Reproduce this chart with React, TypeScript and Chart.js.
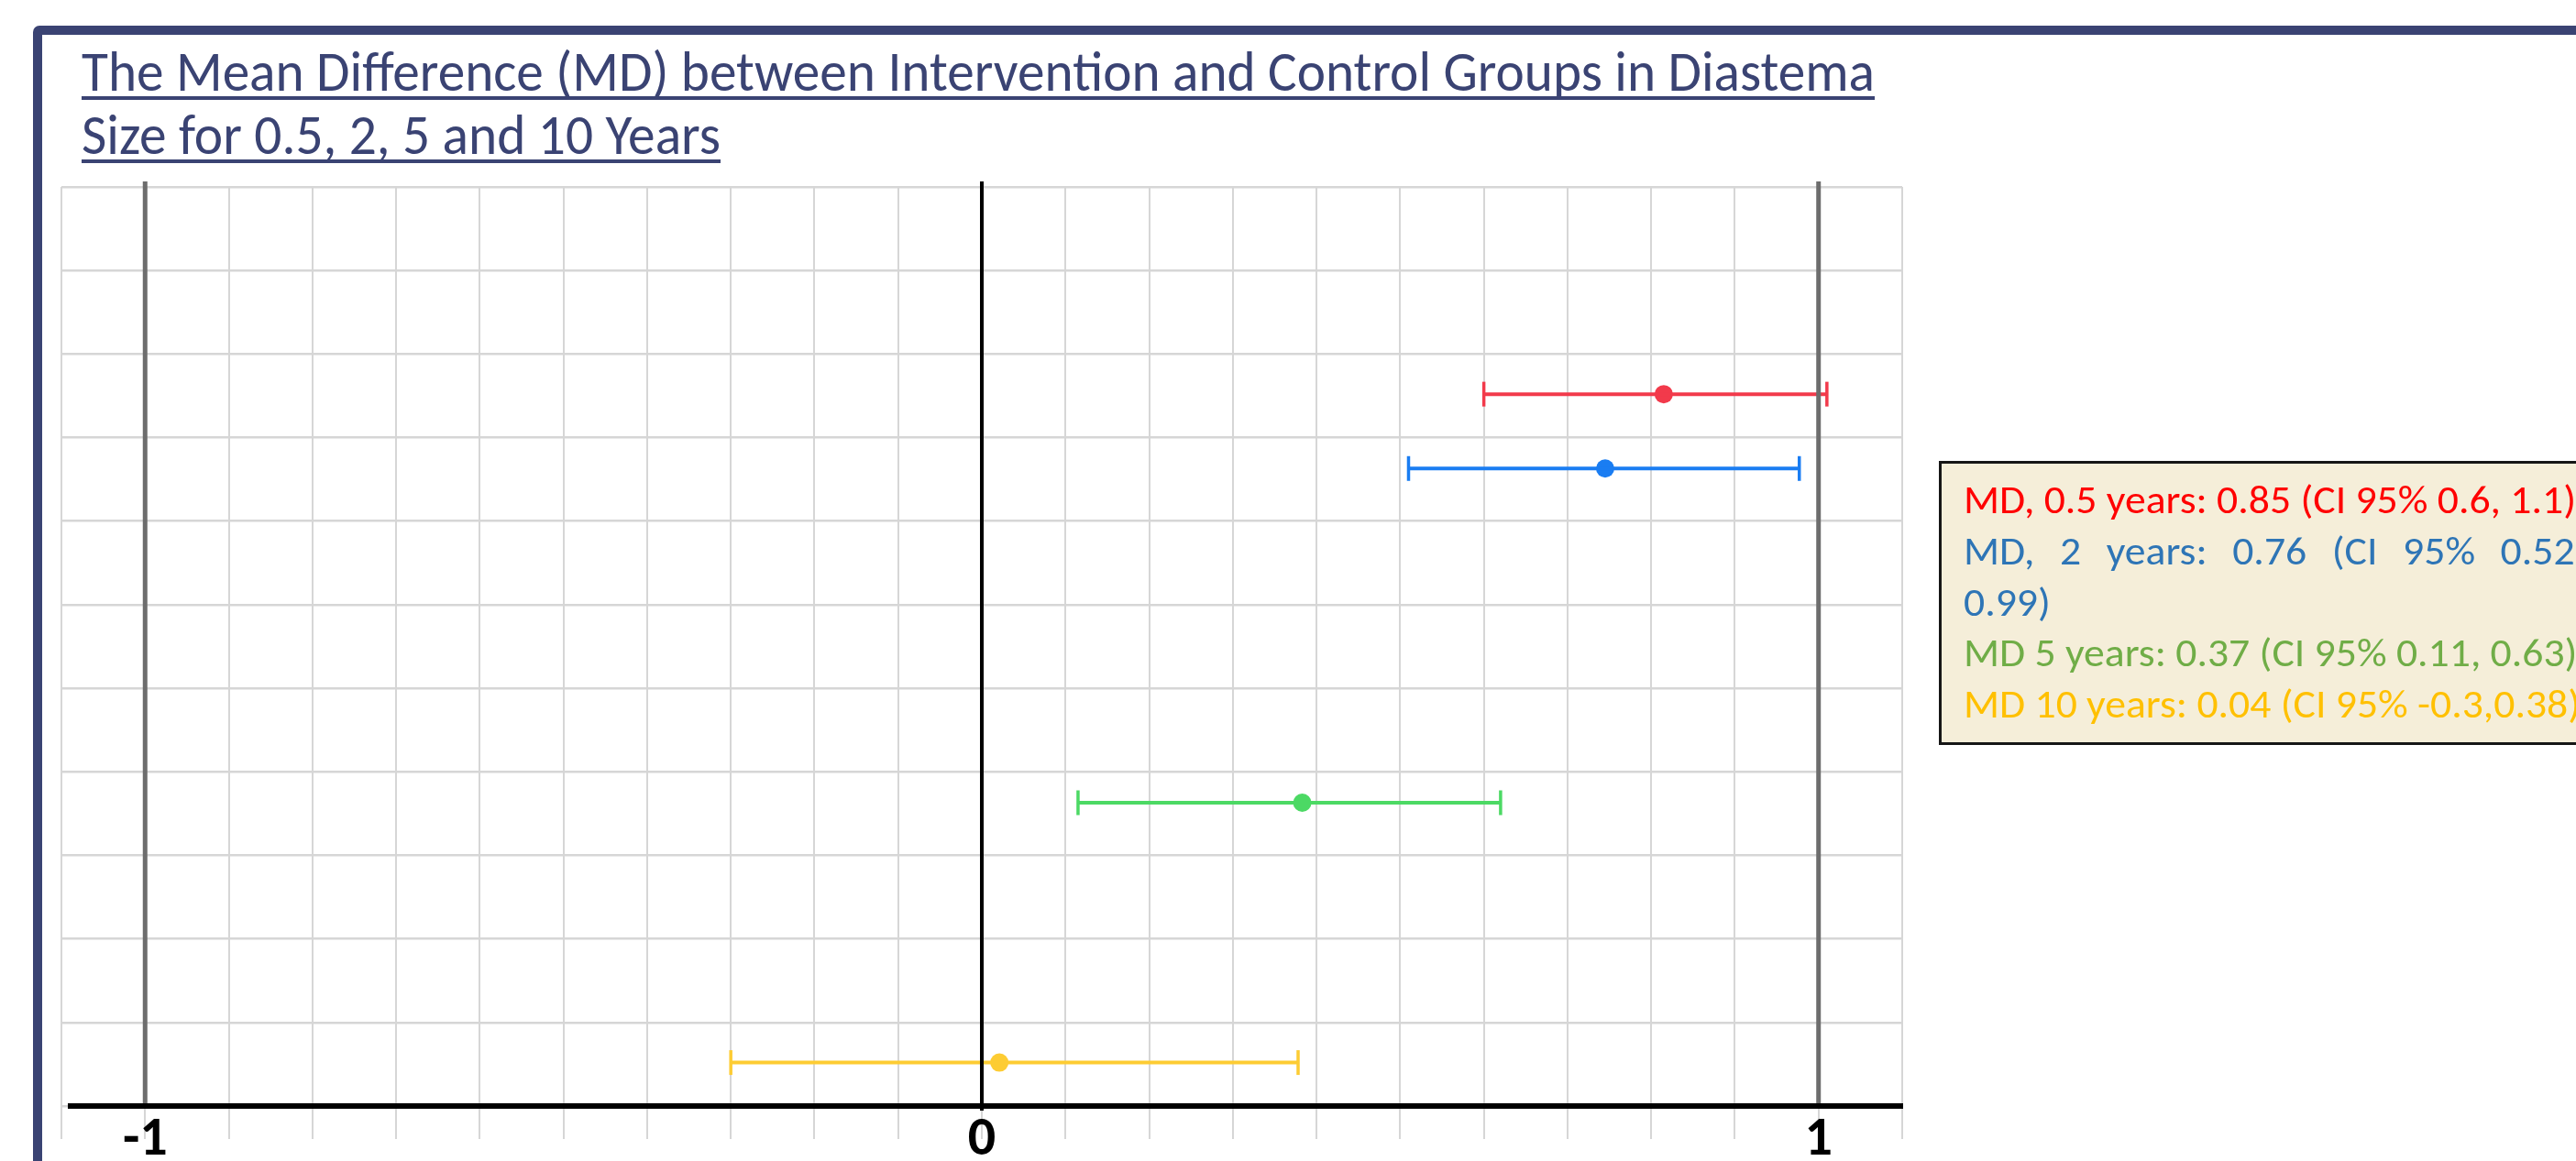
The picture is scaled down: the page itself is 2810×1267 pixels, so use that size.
import React, { useEffect, useRef } from 'react';
import { Chart, registerables } from 'chart.js';

Chart.register(...registerables);

// ---------- data ----------
const SERIES_NAMES = ['MD 0.5 years', 'MD 2 years', 'MD 5 years', 'MD 10 years'];
const MEAN_DIFF = [0.815, 0.745, 0.383, 0.021];
const ROW_POSITION = [0.852, 0.763, 0.363, 0.052];
const CI_LOWER = [0.6, 0.51, 0.115, -0.3];
const CI_UPPER = [1.01, 0.977, 0.62, 0.378];
const SERIES_COLORS = ['#f23a4b', '#1a7df2', '#4cd964', '#fdcc33'];
const X_LABELED_TICKS = [-1, 0, 1];
const REFERENCE_LINES = [-1, 0, 1];
const TITLE_LINES = [
  'The Mean Difference (MD) between Intervention and Control Groups in Diastema',
  'Size for 0.5, 2, 5 and 10 Years',
];
const LEGEND_LINES = [
  'MD, 0.5 years: 0.85 (CI 95% 0.6, 1.1)',
  'MD, 2 years: 0.76 (CI 95% 0.52,',
  '0.99)',
  'MD 5 years: 0.37 (CI 95% 0.11, 0.63)',
  'MD 10 years: 0.04 (CI 95% -0.3,0.38)',
];
const LEGEND_LINE_COLORS = ['#ff0000', '#2e75b6', '#2e75b6', '#70ad47', '#ffc000'];
const LEGEND_LINE_JUSTIFIED = [false, true, false, false, false];

// ---------- styles / layout ----------
const NAVY = '#3a4373';
const FONT_FAMILY = 'Carlito, "Open Sans", sans-serif';
const GRID_COLOR = '#d6d6d6';

function drawScaledText(ctx: CanvasRenderingContext2D, text: string, x: number, y: number, sx: number) {
  ctx.save();
  ctx.translate(x, y);
  ctx.scale(sx, 1);
  ctx.fillText(text, 0, 0);
  ctx.restore();
}

const decorPlugin = {
  id: 'decor',
  beforeDraw(chart: any) {
    const ctx: CanvasRenderingContext2D = chart.ctx;
    const W = chart.width;
    const H = chart.height;
    ctx.save();
    ctx.fillStyle = '#ffffff';
    ctx.fillRect(0, 0, W, H);

    // frame (top + left border)
    ctx.fillStyle = NAVY;
    ctx.beginPath();
    (ctx as any).roundRect(36, 28, W + 100, H + 100, 7);
    ctx.fill();
    ctx.fillStyle = '#ffffff';
    ctx.fillRect(46, 38, W + 100, H + 100);

    // cap-height ratio of the font
    ctx.font = `100px ${FONT_FAMILY}`;
    const capRatio = ctx.measureText('H').actualBoundingBoxAscent / 100 || 0.7;
    ctx.textAlign = 'left';
    ctx.textBaseline = 'alphabetic';

    // title
    const titleBaselines = [99, 168];
    const titleWidths = [1956, 697];
    const titleSize = 39.7 / capRatio;
    ctx.font = `${titleSize}px ${FONT_FAMILY}`;
    ctx.fillStyle = NAVY;
    TITLE_LINES.forEach((t, i) => {
      const w = ctx.measureText(t).width;
      drawScaledText(ctx, t, 89, titleBaselines[i], titleWidths[i] / w);
      ctx.fillRect(89, titleBaselines[i] + 6, titleWidths[i], 4);
    });

    // legend box
    ctx.fillStyle = '#f5eed9';
    ctx.fillRect(2115, 503, 900, 310);
    ctx.strokeStyle = '#161616';
    ctx.lineWidth = 3;
    ctx.strokeRect(2116.5, 504.5, 900, 307);

    const legendSize = 28.3 / capRatio;
    ctx.font = `${legendSize}px ${FONT_FAMILY}`;
    const sx = 668 / ctx.measureText(LEGEND_LINES[0]).width;
    const textLeft = 2142;
    const justifyWidth = 678;
    const lineGap = 55.8;
    LEGEND_LINES.forEach((line, i) => {
      const baseline = 560 + i * lineGap;
      ctx.fillStyle = LEGEND_LINE_COLORS[i];
      const words = line.split(' ');
      if (LEGEND_LINE_JUSTIFIED[i] && words.length > 1) {
        const widths = words.map((wd) => ctx.measureText(wd).width * sx);
        const total = widths.reduce((a, b) => a + b, 0);
        const gap = (justifyWidth - total) / (words.length - 1);
        let x = textLeft;
        words.forEach((wd, k) => {
          drawScaledText(ctx, wd, x, baseline, sx);
          x += widths[k] + gap;
        });
      } else {
        drawScaledText(ctx, line, textLeft, baseline, sx);
      }
    });
    ctx.restore();
  },
  afterDatasetsDraw(chart: any) {
    const ctx: CanvasRenderingContext2D = chart.ctx;
    const xs = chart.scales.x;
    const ys = chart.scales.y;
    const area = chart.chartArea;
    const y0 = ys.getPixelForValue(0);
    ctx.save();
    REFERENCE_LINES.forEach((v) => {
      const px = xs.getPixelForValue(v);
      ctx.strokeStyle = v === 0 ? '#000000' : '#6d6d6d';
      ctx.lineWidth = v === 0 ? 4 : 5;
      ctx.beginPath();
      ctx.moveTo(px, area.top - 6);
      ctx.lineTo(px, y0 + (v === 0 ? 5 : 0));
      ctx.stroke();
    });
    ctx.strokeStyle = '#000000';
    ctx.lineWidth = 6;
    ctx.beginPath();
    ctx.moveTo(area.left + 7, y0);
    ctx.lineTo(area.right + 1, y0);
    ctx.stroke();
    ctx.restore();
  },
};

export default function App() {
  const ref = useRef<HTMLCanvasElement>(null);
  useEffect(() => {
    const datasets: any[] = [];
    SERIES_NAMES.forEach((name, i) => {
      datasets.push({
        label: name + ' CI',
        data: [
          { x: CI_LOWER[i], y: ROW_POSITION[i] },
          { x: CI_UPPER[i], y: ROW_POSITION[i] },
        ],
        showLine: true,
        borderColor: SERIES_COLORS[i],
        borderWidth: 4,
        pointStyle: 'line',
        rotation: 90,
        pointRadius: 13.5,
        pointBorderWidth: 3.5,
        pointBorderColor: SERIES_COLORS[i],
        pointBackgroundColor: SERIES_COLORS[i],
        fill: false,
      });
      datasets.push({
        label: name,
        data: [{ x: MEAN_DIFF[i], y: ROW_POSITION[i] }],
        pointRadius: 10,
        pointBackgroundColor: SERIES_COLORS[i],
        pointBorderWidth: 0,
        showLine: false,
      });
    });
    const chart = new Chart(ref.current as HTMLCanvasElement, {
      type: 'scatter',
      data: { datasets },
      options: {
        animation: false,
        responsive: false,
        events: [],
        layout: { padding: { left: 67, right: 735, top: 204, bottom: 0 } },
        plugins: {
          legend: { display: false },
          tooltip: { enabled: false },
          title: { display: false },
        },
        scales: {
          x: {
            type: 'linear',
            min: -1.1,
            max: 1.1,
            afterFit: (s: any) => {
              s.height = 60;
            },
            border: { display: false },
            grid: {
              color: GRID_COLOR,
              lineWidth: 2,
              drawTicks: true,
              tickLength: 36,
              tickColor: GRID_COLOR,
              tickWidth: 2,
            },
            ticks: {
              stepSize: 0.1,
              autoSkip: false,
              maxRotation: 0,
              minRotation: 0,
              padding: -34,
              color: '#000000',
              font: { family: FONT_FAMILY, size: 60, weight: 'bold' },
              callback: (value: any) => {
                const v = Math.round(Number(value) * 10) / 10;
                return X_LABELED_TICKS.includes(v) ? String(v) : '';
              },
            },
          },
          y: {
            type: 'linear',
            min: 0,
            max: 1.1,
            afterFit: (s: any) => {
              s.width = 0;
            },
            border: { display: false },
            grid: { color: GRID_COLOR, lineWidth: 2.5, drawTicks: false },
            ticks: { display: false, stepSize: 0.1 },
          },
        },
      } as any,
      plugins: [decorPlugin],
    });
    return () => chart.destroy();
  }, []);
  return (
    <div
      style={{
        position: 'fixed',
        left: 0,
        top: 0,
        width: 2810,
        height: 1267,
        overflow: 'hidden',
        background: '#ffffff',
      }}
    >
      <canvas ref={ref} width={2810} height={1267} style={{ display: 'block', width: 2810, height: 1267 }} />
    </div>
  );
}
